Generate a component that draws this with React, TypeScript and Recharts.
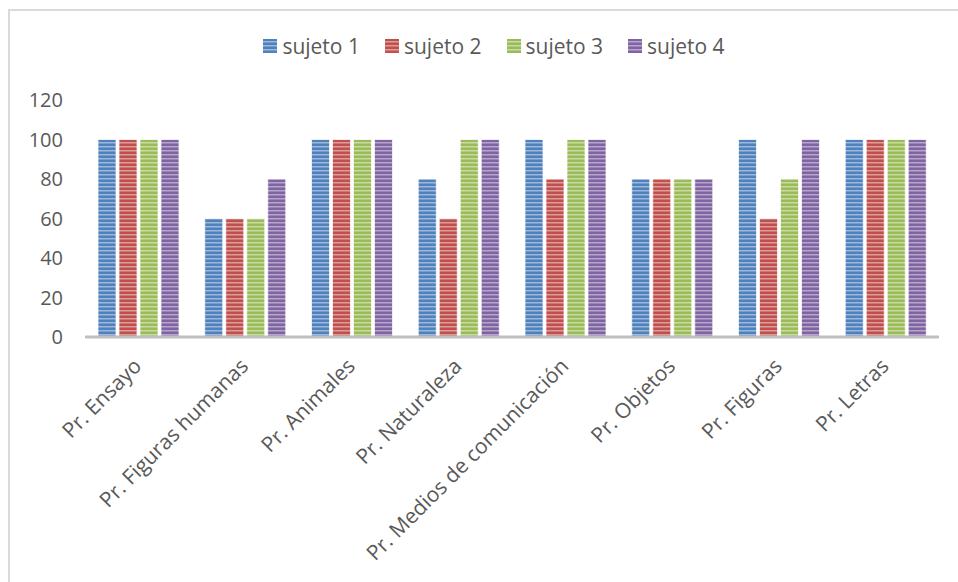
import React from 'react';
import { BarChart, Bar, XAxis, YAxis, Legend } from 'recharts';

const categories = [
  'Pr. Ensayo',
  'Pr. Figuras humanas',
  'Pr. Animales',
  'Pr. Naturaleza',
  'Pr. Medios de comunicación',
  'Pr. Objetos',
  'Pr. Figuras',
  'Pr. Letras',
];
const sujeto1 = [100, 60, 100, 80, 100, 80, 100, 100];
const sujeto2 = [100, 60, 100, 60, 80, 80, 60, 100];
const sujeto3 = [100, 60, 100, 100, 100, 80, 80, 100];
const sujeto4 = [100, 80, 100, 100, 100, 80, 100, 100];
const yTicks = [0, 20, 40, 60, 80, 100, 120];

const seriesNames = ['sujeto 1', 'sujeto 2', 'sujeto 3', 'sujeto 4'];
const colors = ['#4f81bd', '#c0504d', '#9bbb59', '#8064a2'];
const lights = ['#9db8da', '#dc9c9a', '#c8dba3', '#b7a6cc'];

const data = categories.map((name, i) => ({
  name,
  s1: sujeto1[i],
  s2: sujeto2[i],
  s3: sujeto3[i],
  s4: sujeto4[i],
}));

const FONT = '"Open Sans", "Noto Sans", sans-serif';

const Patterns = () => (
  <svg width={0} height={0} style={{ position: 'absolute' }}>
    <defs>
      {colors.map((c, i) => (
        <pattern key={i} id={`stripe${i}`} width={8} height={4} patternUnits="userSpaceOnUse">
          <rect width={8} height={4} fill={c} />
          <rect y={2} width={8} height={1.5} fill={lights[i]} />
        </pattern>
      ))}
    </defs>
  </svg>
);

const XTick = ({ x, y, payload }: any) => (
  <g transform={`translate(${x - 6},${y + 12})`}>
    <text
      transform="rotate(-45)"
      textAnchor="end"
      dy="0.7em"
      fill="#595959"
      fontSize={21}
      fontFamily={FONT}
    >
      {payload.value}
    </text>
  </g>
);

const LegendContent = () => (
  <div
    style={{
      display: 'flex',
      justifyContent: 'center',
      gap: 25,
      fontFamily: FONT,
      fontSize: 21,
      lineHeight: '24px',
      height: 24,
      color: '#595959',
      paddingLeft: 30,
    }}
  >
    {seriesNames.map((n, i) => (
      <div key={n} style={{ display: 'flex', alignItems: 'center', gap: 5 }}>
        <svg width={14} height={14}>
          <rect width={14} height={14} fill={`url(#stripe${i})`} />
        </svg>
        <span>{n}</span>
      </div>
    ))}
  </div>
);

export default function App() {
  return (
    <div style={{ position: 'absolute', left: 0, top: 0, width: 958, height: 582, background: '#fff', overflow: 'hidden' }}>
      <Patterns />
      <div
        style={{
          position: 'absolute',
          left: 8,
          top: 9,
          width: 960,
          height: 600,
          borderLeft: '2px solid #d9d9d9',
          borderTop: '2px solid #d9d9d9',
        }}
      />
      <div style={{ position: 'absolute', left: 0, top: 0 }}>
        <BarChart
          width={958}
          height={582}
          data={data}
          margin={{ top: 76, right: 19, bottom: 0, left: 0 }}
          barCategoryGap={13}
          barGap={3}
        >
          <Legend
            verticalAlign="top"
            content={<LegendContent />}
            wrapperStyle={{ top: 34, left: 0, width: 958, height: 24 }}
          />
          <XAxis
            dataKey="name"
            interval={0}
            height={245}
            tick={<XTick />}
            tickLine={false}
            axisLine={{ stroke: '#bfbfbf', strokeWidth: 3 }}
          />
          <YAxis
            domain={[0, 120]}
            ticks={yTicks}
            width={85}
            axisLine={false}
            tickLine={false}
            tickSize={0}
            tickMargin={22}
            tick={{ fill: '#595959', fontSize: 20, fontFamily: FONT }}
          />
          {['s1', 's2', 's3', 's4'].map((k, i) => (
            <Bar
              key={k}
              dataKey={k}
              name={seriesNames[i]}
              fill={`url(#stripe${i})`}
              stroke="#ffffff"
              strokeOpacity={0.7}
              strokeWidth={1}
              isAnimationActive={false}
            />
          ))}
        </BarChart>
      </div>
    </div>
  );
}
